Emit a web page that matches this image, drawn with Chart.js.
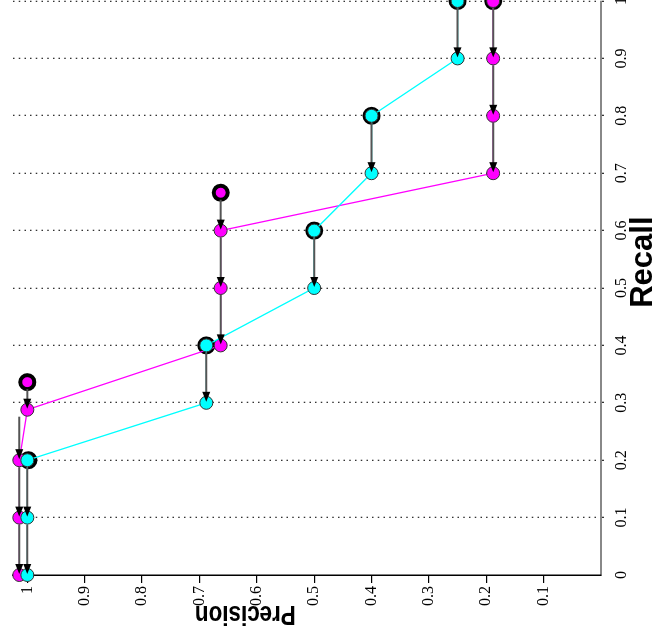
<!DOCTYPE html>
<html>
<head>
<meta charset="utf-8">
<script src="https://cdn.jsdelivr.net/npm/chart.js"></script>
<style>
  html, body { margin: 0; padding: 0; background: #fff; overflow: hidden; }
  /* the chart is drawn as a normal recall/precision plot, then turned a quarter turn */
  #wrap { position: absolute; left: 0; top: 0; width: 649px; height: 652px;
          transform-origin: 0 0; transform: translate(0, 639px) rotate(-90deg); }
</style>
</head>
<body>
<div id="wrap"><canvas id="prChart"></canvas></div>
<script>
var recallTicks = [0, 0.1, 0.2, 0.3, 0.4, 0.5, 0.6, 0.7, 0.8, 0.9, 1];
var precisionTicks = [0.1, 0.2, 0.3, 0.4, 0.5, 0.6, 0.7, 0.8, 0.9, 1];

// interpolated precision at the standard recall levels
var cyanRecall = [0, 0.1, 0.2, 0.3, 0.4, 0.5, 0.6, 0.7, 0.8, 0.9, 1];
var cyanPrecision = [1, 1, 1, 0.688, 0.688, 0.5, 0.5, 0.4, 0.4, 0.25, 0.25];
var magentaRecall = [0, 0.1, 0.2, 0.288, 0.4, 0.5, 0.6, 0.7, 0.8, 0.9, 1];
var magentaPrecision = [1.014, 1.014, 1.014, 1, 0.663, 0.663, 0.663, 0.188, 0.188, 0.188, 0.188];

// measured points (the black rings)
var cyanRingRecall = [0.2, 0.4, 0.6, 0.8, 1];
var cyanRingPrecision = [0.998, 0.688, 0.5, 0.4, 0.25];
var magentaRingRecall = [0.336, 0.666, 1];
var magentaRingPrecision = [1, 0.663, 0.188];

function pts(xs, ys) {
  return xs.map(function(x, i) { return {x: x, y: ys[i]}; });
}
function fmt(v) { return String(Math.round(v * 10) / 10); }

// arrows: each interpolated point gets an arrow from the next point above it
// (higher recall) that has the same precision
var arrowPlugin = {
  id: 'arrows',
  afterDatasetsDraw: function(chart) {
    var ctx = chart.ctx, xs = chart.scales.x, ys = chart.scales.y;
    var series = [
      {interp: pts(cyanRecall, cyanPrecision), ring: pts(cyanRingRecall, cyanRingPrecision)},
      {interp: pts(magentaRecall, magentaPrecision), ring: pts(magentaRingRecall, magentaRingPrecision)}
    ];
    ctx.save();
    series.forEach(function(s) {
      var all = s.interp.concat(s.ring);
      s.interp.forEach(function(p) {
        var src = null;
        all.forEach(function(q) {
          if (q.x > p.x + 1e-6 && Math.abs(q.y - p.y) < 0.02) {
            if (!src || q.x < src.x) src = q;
          }
        });
        if (!src) return;
        var tx = xs.getPixelForValue(p.x), ty = ys.getPixelForValue(p.y);
        var sx = xs.getPixelForValue(src.x);
        ctx.strokeStyle = '#555';
        ctx.lineWidth = 2;
        ctx.beginPath();
        ctx.moveTo(sx - 7, ty);
        ctx.lineTo(tx + 9, ty);
        ctx.stroke();
        ctx.fillStyle = '#000';
        ctx.beginPath();
        ctx.moveTo(tx + 1, ty);
        ctx.lineTo(tx + 11, ty - 4);
        ctx.lineTo(tx + 11, ty + 4);
        ctx.closePath();
        ctx.fill();
      });
    });
    ctx.restore();
  },
  afterDraw: function(chart) {
    var ctx = chart.ctx, xs = chart.scales.x, ys = chart.scales.y;
    ctx.save();
    ctx.fillStyle = '#000';
    ctx.textAlign = 'center';
    ctx.textBaseline = 'alphabetic';
    ctx.font = 'bold 31px "Liberation Sans", Arial, sans-serif';
    ctx.fillText('Recall', xs.getPixelForValue(0.545), 652);
    // title set a bit narrow, like the original's lettering
    ctx.translate(33, ys.getPixelForValue(0.62));
    ctx.rotate(-Math.PI / 2);
    ctx.scale(0.8, 1);
    ctx.font = 'bold 28px "Liberation Sans", Arial, sans-serif';
    ctx.fillText('Precision', 0, 0);
    ctx.restore();
  }
};

var tickFont = {family: '"Liberation Serif", "Times New Roman", serif', size: 16};

new Chart('prChart', {
  type: 'scatter',
  data: {
    datasets: [{
      data: pts(cyanRecall, cyanPrecision),
      showLine: true,
      borderColor: '#00ffff',
      borderWidth: 1.3,
      pointRadius: 6.5,
      pointBackgroundColor: '#00ffff',
      pointBorderColor: '#333',
      pointBorderWidth: 1,
      clip: false,
      order: 1
    }, {
      data: pts(magentaRecall, magentaPrecision),
      showLine: true,
      borderColor: '#ff00ff',
      borderWidth: 1.3,
      pointRadius: 6.5,
      pointBackgroundColor: '#ff00ff',
      pointBorderColor: '#333',
      pointBorderWidth: 1,
      clip: false,
      order: 2
    }, {
      data: pts(cyanRingRecall, cyanRingPrecision),
      showLine: false,
      pointRadius: 7,
      pointBackgroundColor: '#00ffff',
      pointBorderColor: '#000',
      pointBorderWidth: 4,
      clip: false,
      order: 3
    }, {
      data: pts(magentaRingRecall, magentaRingPrecision),
      showLine: false,
      pointRadius: 7,
      pointBackgroundColor: '#ff00ff',
      pointBorderColor: '#000',
      pointBorderWidth: 4,
      clip: false,
      order: 3
    }]
  },
  options: {
    responsive: true,
    maintainAspectRatio: false,
    animation: false,
    layout: {padding: {top: 13, right: 1, bottom: 0, left: 0}},
    plugins: {legend: {display: false}, tooltip: {enabled: false}},
    scales: {
      x: {
        type: 'linear',
        min: 0,
        max: 1,
        afterBuildTicks: function(s) { s.ticks = recallTicks.map(function(v) { return {value: v}; }); },
        afterFit: function(s) { s.height = 51; s.paddingLeft = 0; s.paddingRight = 0; },
        grid: {
          color: function(c) { return c.tick && c.tick.value === 0 ? 'rgba(0,0,0,0)' : '#333'; },
          lineWidth: 1.3,
          tickLength: 3
        },
        border: {color: '#888', width: 2, dash: [1.5, 4.2]},
        ticks: {font: tickFont, color: '#000', padding: 8, maxRotation: 0, callback: fmt}
      },
      y: {
        type: 'linear',
        min: 0,
        max: 1.025,
        afterBuildTicks: function(s) { s.ticks = precisionTicks.map(function(v) { return {value: v}; }); },
        afterFit: function(s) { s.width = 64; s.paddingTop = 0; s.paddingBottom = 0; },
        grid: {drawOnChartArea: false, color: '#000', lineWidth: 1.2, tickLength: 8},
        border: {color: '#000', width: 1.5},
        ticks: {font: tickFont, color: '#000', padding: 3, callback: fmt}
      }
    }
  },
  plugins: [arrowPlugin]
});
</script>
</body>
</html>
